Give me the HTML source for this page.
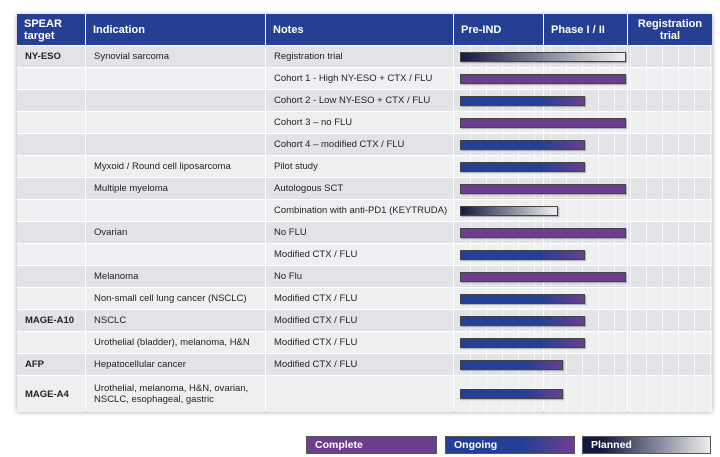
<!DOCTYPE html>
<html><head><meta charset="utf-8"><style>
body{margin:0;width:720px;height:457px;background:#fff;font-family:"Liberation Sans",sans-serif;position:relative;overflow:hidden}
.abs{position:absolute;box-sizing:border-box}
.hd{background:#253f94;color:#fff;font-weight:bold;font-size:11px;display:flex;align-items:center}
.cell{font-size:9.5px;color:#222;display:flex;align-items:center;padding-left:8px}
.leg{height:18px;top:436px;color:#fff;font-weight:bold;font-size:10.5px;padding-left:8px;display:flex;align-items:center;border:1px solid #555}
</style></head><body>
<div id="table" class="abs" style="left:17px;top:14px;width:695px;height:397px;box-shadow:0 1px 5px rgba(0,0,0,.35)"></div>
<div class="abs leg" style="left:306px;width:131px;background:#6b3f8e">Complete</div>
<div class="abs leg" style="left:445px;width:130px;background:linear-gradient(90deg,#263f96 60%,#6b3f8e)">Ongoing</div>
<div class="abs leg" style="left:582px;width:129px;background:linear-gradient(90deg,#141a40 15%,#eee)">Planned</div>
<script>
const targets=["NY-ESO","","","","","","","","","","","","MAGE-A10","","AFP","MAGE-A4"];
const indications=["Synovial sarcoma","","","","","Myxoid / Round cell liposarcoma","Multiple myeloma","","Ovarian","","Melanoma","Non-small cell lung cancer (NSCLC)","NSCLC","Urothelial (bladder), melanoma, H&N","Hepatocellular cancer","Urothelial, melanoma, H&N, ovarian,<br>NSCLC, esophageal, gastric"];
const notes=["Registration trial","Cohort 1 - High NY-ESO + CTX / FLU","Cohort 2 - Low NY-ESO + CTX / FLU","Cohort 3 – no FLU","Cohort 4 – modified CTX / FLU","Pilot study","Autologous SCT","Combination with anti-PD1 (KEYTRUDA)","No FLU","Modified CTX / FLU","No Flu","Modified CTX / FLU","Modified CTX / FLU","Modified CTX / FLU","Modified CTX / FLU",""];
const status=["planned","complete","ongoing","complete","ongoing","ongoing","complete","planned","complete","ongoing","complete","ongoing","ongoing","ongoing","ongoing","ongoing"];
const progress=[100,100,75,100,75,75,100,59,100,75,100,75,75,75,62,62];
const cols=[[17,68],[86,179],[266,187],[454,89],[544,83],[628,84]];
const x0=460,x100=626;
function xs(v){return x0+(x100-x0)*v/100;}
function add(cls,l,t,w,h,html,name,style){const d=document.createElement('div');d.className='abs '+cls;d.style.cssText=`left:${l}px;top:${t}px;width:${w}px;height:${h}px;`+(style||'');d.innerHTML=html;


document.body.appendChild(d);return d;}
const heads=["SPEAR<br>target","Indication","Notes","Pre-IND","Phase I / II","Registration<br>trial"];
heads.forEach((h,i)=>{const c=cols[i];add('hd',c[0],14,c[1],31,h,'header-'+i,i==5?'justify-content:center;text-align:center;':'padding-left:7px;');});
for(let r=0;r<16;r++){
 const top=46+r*22,h=r==15?36:21,bg=r%2==0?'#e2e3e7':'#eeeff1';
 const texts=[targets[r],indications[r],notes[r],'','',''];
 cols.forEach((c,i)=>{add('cell',c[0],top,c[1],h,texts[i],'row-'+r+'-col-'+i,`background:${bg};`+(i==0?'font-weight:bold;':''));});
 for(let g=470;g<712;g+=16){add('',g,top,1,h,'','grid-line',`background:rgba(255,255,255,.7)`);}
 const bar=add('',x0,top+h/2-5,xs(progress[r])-x0,10,'','bar-row-'+r,'border:1px solid #444;box-shadow:1px 1px 1px rgba(0,0,0,.3);');
 bar.style.background=status[r]=='complete'?'#6b3f8e':status[r]=='ongoing'?'linear-gradient(90deg,#263f96 65%,#6b3f8e)':'linear-gradient(90deg,#141a40,#f0f0f0)';
}
</script>
</body></html>
